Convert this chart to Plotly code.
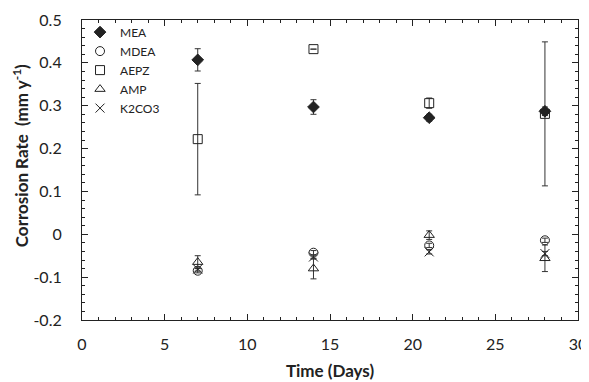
import plotly.graph_objects as go

days = [7, 14, 21, 28]

mea = [0.407, 0.297, 0.272, 0.287]
mea_err = [0.026, 0.017, 0.008, 0.010]

mdea = [-0.085, -0.043, -0.026, -0.014]
mdea_err = [0.005, 0.005, 0.005, 0.005]

aepz = [0.222, 0.432, 0.306, 0.281]
aepz_err = [0.130, 0.0, 0.012, 0.168]

amp = [-0.065, -0.080, -0.002, -0.056]
amp_err = [0.015, 0.024, 0.010, 0.031]

k2co3 = [-0.081, -0.053, -0.041, -0.045]
k2co3_err = [0.005, 0.005, 0.005, 0.005]

y_ticks = [-0.2, -0.1, 0, 0.1, 0.2, 0.3, 0.4, 0.5]
y_ticktext = ["-0.2", "-0.1", "0", "0.1", "0.2", "0.3", "0.4", "0.5"]
x_ticks = [0, 5, 10, 15, 20, 25, 30]

series = [
    # name, y, err, symbol, rank
    ("AEPZ", aepz, aepz_err, "square-open", 3),
    ("MDEA", mdea, mdea_err, "circle-open", 2),
    ("AMP", amp, amp_err, "triangle-up-open", 4),
    ("K2CO3", k2co3, k2co3_err, "x-thin-open", 5),
    ("MEA", mea, mea_err, "diamond", 1),
]

fig = go.Figure()
for name, y, err, sym, rank in series:
    fig.add_trace(go.Scatter(
        x=days, y=y, mode="markers", name=name, legendrank=rank,
        marker=dict(symbol=sym, size=9 if sym != "diamond" else 9,
                    color="#222222", line=dict(color="#222222", width=1)),
        error_y=dict(type="data", array=err, visible=True,
                     color="#333333", thickness=1, width=3),
    ))

font = "Lato, 'Open Sans', sans-serif"
fig.update_layout(
    width=581, height=374,
    margin=dict(l=74, r=11, t=10, b=62),
    paper_bgcolor="white", plot_bgcolor="white",
    font=dict(family=font, color="#222222", size=16),
    showlegend=True,
    legend=dict(x=-0.004, y=1.008, xanchor="left", yanchor="top",
                bgcolor="rgba(0,0,0,0)", font=dict(size=12),
                tracegroupgap=0, itemwidth=30),
    xaxis=dict(
        range=[0, 30], tickvals=x_ticks,
        showline=True, linecolor="#222222", linewidth=1.2, mirror="ticks",
        ticks="inside", ticklen=6, tickcolor="#222222",
        minor=dict(dtick=1, ticks="inside", ticklen=3, tickcolor="#222222"),
        showgrid=False, zeroline=False, automargin=False,
        ticklabelstandoff=10,
        title=dict(text="<b>Time (Days)</b>", font=dict(size=17), standoff=12),
    ),
    yaxis=dict(
        range=[-0.2, 0.5], tickvals=y_ticks, ticktext=y_ticktext,
        showline=True, linecolor="#222222", linewidth=1.2, mirror="ticks",
        ticks="inside", ticklen=6, tickcolor="#222222",
        minor=dict(dtick=0.02, ticks="inside", ticklen=3, tickcolor="#222222"),
        showgrid=False, zeroline=False, automargin=False,
        ticklabelstandoff=16,
    ),
    annotations=[dict(
        text="<b>Corrosion Rate  (mm y<sup>-1</sup>)</b>",
        xref="paper", yref="paper", x=-62 / 496, y=0.546,
        xanchor="center", yanchor="middle", textangle=-90,
        showarrow=False, font=dict(size=17),
    )],
)

fig.write_html("out.html")
